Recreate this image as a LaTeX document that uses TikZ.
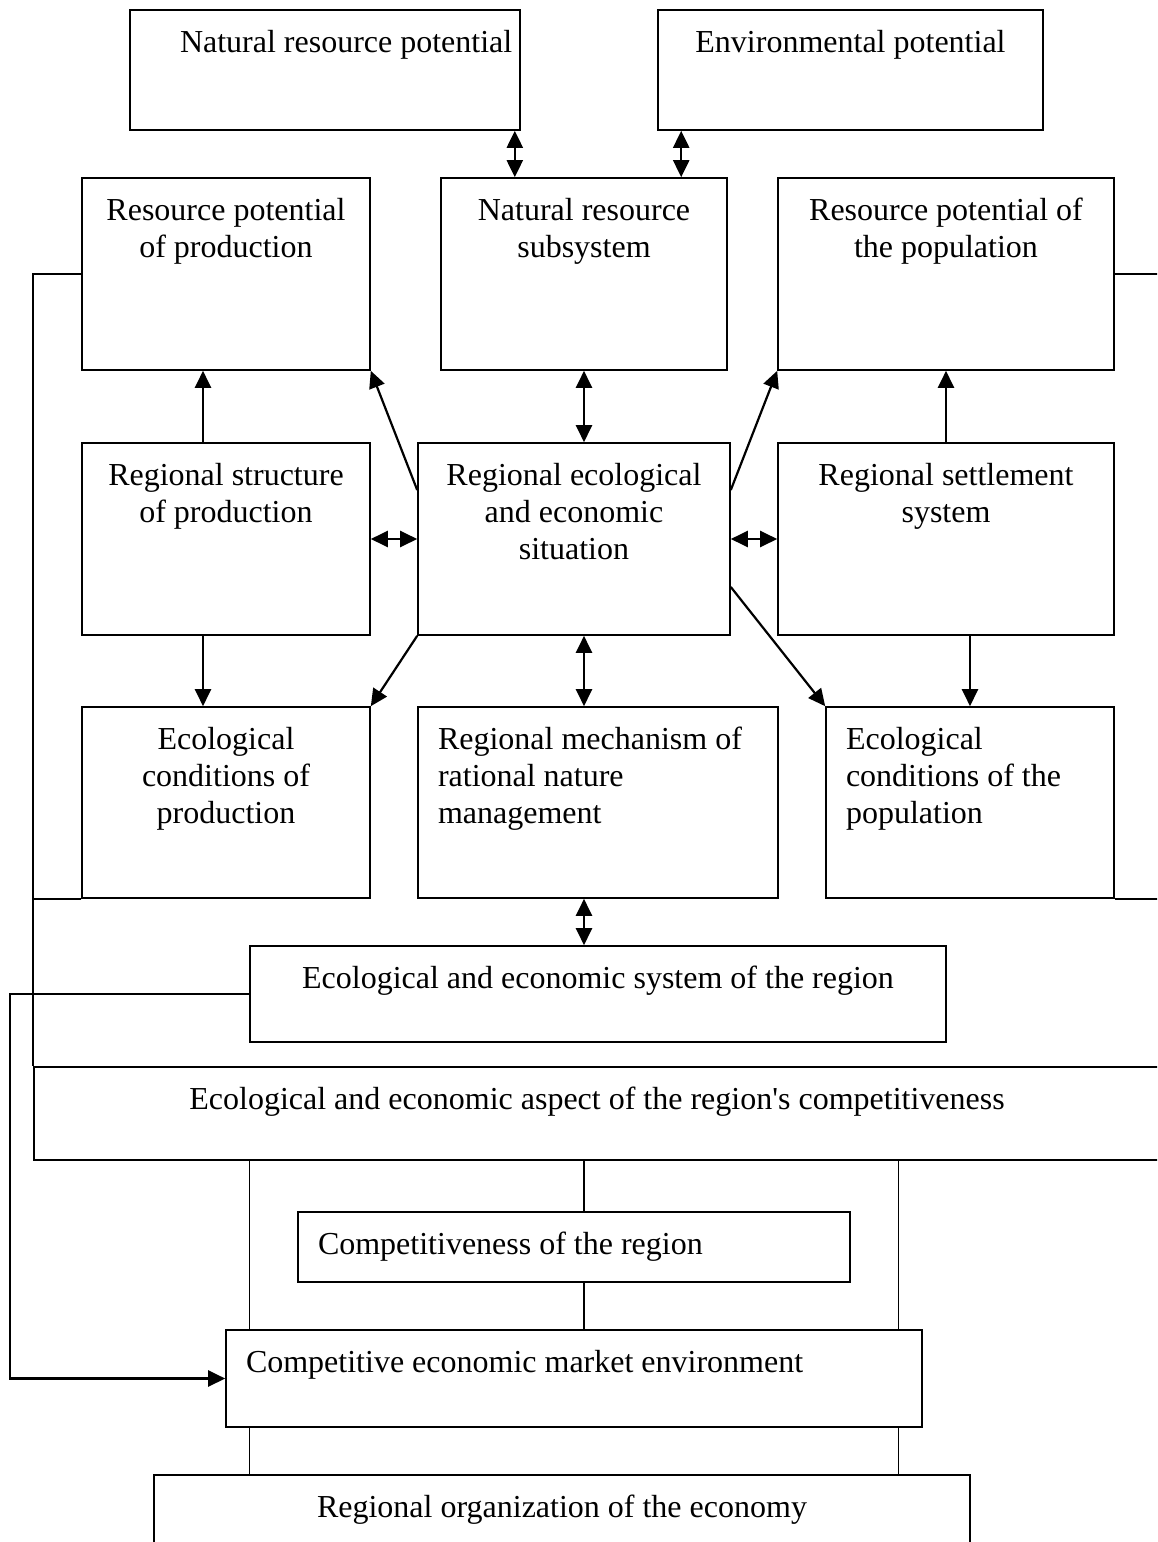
\documentclass[tikz,border=0pt]{standalone}
\usepackage{fontspec}
\setmainfont{Liberation Serif}
\usetikzlibrary{arrows.meta,calc}
% box contents: width, height, text (top aligned)
\newcommand{\cell}[3]{\parbox[c][#2][t]{#1}{\rule{0pt}{21pt}#3}}

\begin{document}
\begin{tikzpicture}[x=0.5pt,y=-0.5pt,
    font=\fontsize{16}{18.5}\selectfont,
    box/.style={draw,line width=0.8pt,inner sep=0pt},
    arrow/.style={-{Triangle[length=8.5pt,width=8pt]},line width=1.1pt},
    dbl/.style={{Triangle[length=8.5pt,width=8pt]}-{Triangle[length=8.5pt,width=8pt]},line width=1.1pt},
    link/.style={line width=0.8pt},
    thinlink/.style={line width=0.6pt}
  ]
  \useasboundingbox (0,0) rectangle (1157,1542);
  \clip (0,0) rectangle (1157,1542);

  % top row
  \node[box] (nrp) at (325,70) {\cell{195pt}{60pt}{\hspace*{25pt}Natural resource potential}};
  \node[box] (env) at (850.5,70) {\cell{192.5pt}{60pt}{\centering Environmental potential}};

  % second row
  \node[box] (rpp) at (226,274) {\cell{144pt}{96pt}{\centering Resource potential\\of production}};
  \node[box] (nrs) at (584,274) {\cell{143pt}{96pt}{\centering Natural resource\\subsystem}};
  \node[box] (rppop) at (946,274) {\cell{168pt}{96pt}{\centering Resource potential of\\the population}};

  % third row
  \node[box] (rsp) at (226,539) {\cell{144pt}{96pt}{\centering Regional structure\\of production}};
  \node[box] (rees) at (574,539) {\cell{156pt}{96pt}{\centering Regional ecological\\and economic\\situation}};
  \node[box] (rss) at (946,539) {\cell{168pt}{96pt}{\centering Regional settlement\\system}};

  % fourth row
  \node[box] (ecp) at (226,802.5) {\cell{144pt}{95.5pt}{\centering Ecological\\conditions of\\production}};
  \node[box] (rmn) at (598,802.5) {\cell{180pt}{95.5pt}{\raggedright\hspace*{10pt}Regional mechanism of\\\hspace*{10pt}rational nature\\\hspace*{10pt}management}};
  \node[box] (ecpop) at (970,802.5) {\cell{144pt}{95.5pt}{\raggedright\hspace*{10pt}Ecological\\\hspace*{10pt}conditions of the\\\hspace*{10pt}population}};

  % lower part
  \node[box] (ees) at (598,994) {\cell{348pt}{48pt}{\centering Ecological and economic system of the region}};
  \node[box] (aspect) at (597,1113.5) {\cell{563pt}{46.5pt}{\centering Ecological and economic aspect of the region\textquotesingle s competitiveness}};
  \node[box] (comp) at (574,1247) {\cell{276pt}{35pt}{\hspace*{10pt}Competitiveness of the region}};
  \node[box] (market) at (574,1378.5) {\cell{348pt}{48.5pt}{\hspace*{10pt}Competitive economic market environment}};
  \node[box] (rorg) at (562,1537.5) {\cell{408pt}{62.5pt}{\centering Regional organization of the economy}};

  \coordinate (lft) at (10,994);

  % arrows between the upper boxes
  \draw[dbl] ([xshift=-3pt]nrp.south east) -- ([xshift=-3pt]nrp.south east |- nrs.north);
  \draw[dbl] ([xshift=12pt]env.south west) -- ([xshift=12pt]env.south west |- nrs.north);
  \draw[dbl] (nrs.south) -- (nrs.south |- rees.north);
  \draw[arrow] ([xshift=-11.5pt]rsp.north) -- ([xshift=-11.5pt]rpp.south);
  \draw[arrow] (rss.north) -- (rppop.south);
  \draw[arrow] ([yshift=24.5pt]rees.west) -- (rpp.south east);
  \draw[arrow] ([yshift=24.5pt]rees.east) -- (rppop.south west);
  \draw[dbl] (rsp.east) -- (rees.west);
  \draw[dbl] (rees.east) -- (rss.west);
  \draw[arrow] ([xshift=-11.5pt]rsp.south) -- ([xshift=-11.5pt]ecp.north);
  \draw[arrow] (rss.south -| ecpop.north) -- (ecpop.north);
  \draw[arrow] (rees.south west) -- (ecp.north east);
  \draw[arrow] ([yshift=-24pt]rees.east) -- (ecpop.north west);
  \draw[dbl] (rees.south -| nrs.south) -- (rmn.north -| nrs.south);
  \draw[dbl] (rmn.south -| nrs.south) -- (ees.north -| nrs.south);

  % side lines
  \draw[link] (rpp.west) -| (aspect.north west);
  \draw[link] (ecp.south west) -- (ecp.south west -| aspect.north west);
  \draw[link] (rppop.east) -| (aspect.north east);
  \draw[link] (ecpop.south east) -- (ecpop.south east -| aspect.north east);
  \draw[arrow] (ees.west) -- (lft) |- (market.west);

  % lines below the aspect box
  \draw[thinlink] (aspect.south -| ees.west) -- (market.north -| ees.west);
  \draw[thinlink] ([xshift=-12pt]market.north east) -- ([xshift=-12pt]market.north east |- aspect.south);
  \draw[thinlink] (aspect.south -| nrs.south) -- (comp.north -| nrs.south);
  \draw[thinlink] (comp.south -| nrs.south) -- (market.north -| nrs.south);
  \draw[thinlink] (market.south -| ees.west) -- (rorg.north -| ees.west);
  \draw[thinlink] ([xshift=-12pt]market.south east) -- ([xshift=-12pt]market.south east |- rorg.north);
\end{tikzpicture}
\end{document}
